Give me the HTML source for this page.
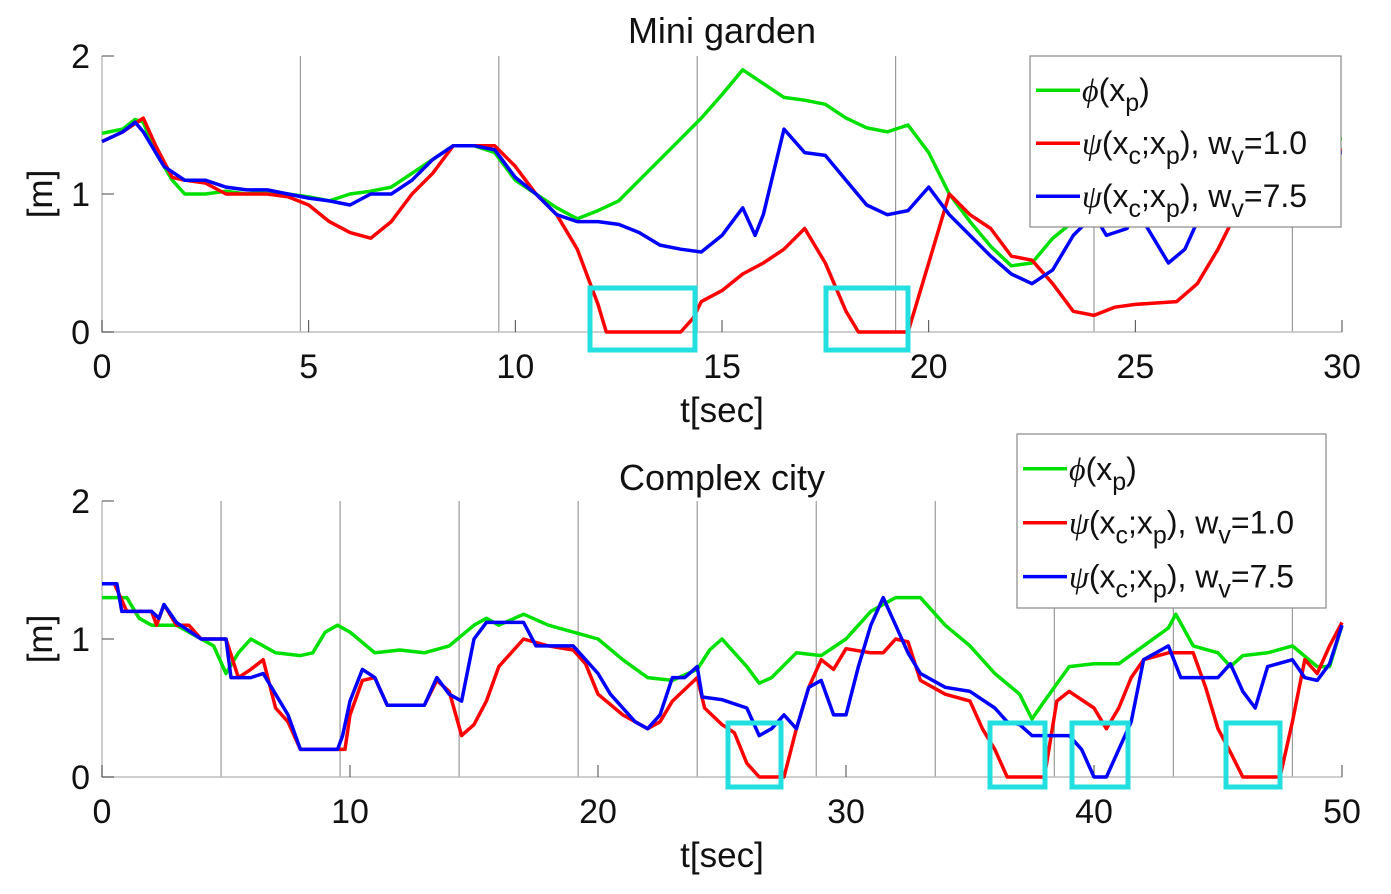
<!DOCTYPE html>
<html><head><meta charset="utf-8"><style>
html,body{margin:0;padding:0;background:#fff}
svg{display:block;font-family:"Liberation Sans",sans-serif}
</style></head><body>
<svg id="chart" width="1391" height="894" viewBox="0 0 1391 894" xmlns="http://www.w3.org/2000/svg"></svg>
<script>
// ---- Mini garden data ----
const gTopT = [0,0.5,0.8,1.0,1.3,1.7,2,2.5,3,3.5,4,4.5,5,5.5,6,6.5,7,7.5,8,8.5,9,9.5,10,10.5,11,11.5,12,12.5,13,13.5,14,14.5,15,15.5,16,16.5,17,17.5,18,18.5,19,19.5,20,20.5,21,21.5,22,22.5,23,23.5,24,25,26,27,28,29,30];
const gTopV = [1.44,1.47,1.54,1.52,1.3,1.1,1.0,1.0,1.02,1.0,1.02,1.0,0.98,0.95,1.0,1.02,1.05,1.15,1.25,1.35,1.35,1.3,1.1,1.0,0.9,0.82,0.88,0.95,1.1,1.25,1.4,1.55,1.72,1.9,1.8,1.7,1.68,1.65,1.55,1.48,1.45,1.5,1.3,1.0,0.8,0.62,0.48,0.5,0.68,0.8,0.95,1.2,1.3,1.35,1.4,1.4,1.4];
const rTopT = [0,0.5,1.0,1.3,1.7,2,2.5,3,3.5,4,4.5,5,5.5,6,6.5,7,7.5,8,8.5,9,9.5,10,10.5,11,11.5,12,12.2,14,14.3,14.5,15,15.5,16,16.5,17,17.5,18,18.3,19.5,20,20.5,21,21.5,22,22.5,23,23.5,24,24.5,25,26,26.5,27,27.5,28,29,30];
const rTopV = [1.38,1.45,1.55,1.35,1.12,1.1,1.08,1.0,1.0,1.0,0.98,0.92,0.8,0.72,0.68,0.8,1.0,1.15,1.35,1.35,1.35,1.2,1.0,0.85,0.6,0.2,0,0,0.1,0.22,0.3,0.42,0.5,0.6,0.75,0.5,0.15,0,0,0.5,1.0,0.85,0.75,0.55,0.52,0.35,0.15,0.12,0.18,0.2,0.22,0.35,0.6,0.9,1.1,1.3,1.32];
const bTopT = [0,0.5,0.8,1,1.5,2,2.5,3,3.5,4,4.5,5,5.5,6,6.5,7,7.5,8,8.5,9,9.5,10,10.5,11,11.5,12,12.5,13,13.5,14,14.5,15,15.5,15.8,16,16.5,17,17.5,18,18.5,19,19.5,20,20.5,21,21.5,22,22.5,23,23.5,24,24.3,24.8,25,25.5,25.8,26.2,26.5,27,28,30];
const bTopV = [1.38,1.45,1.52,1.45,1.2,1.1,1.1,1.05,1.03,1.03,1.0,0.97,0.95,0.92,1.0,1.0,1.1,1.25,1.35,1.35,1.32,1.12,1.0,0.85,0.8,0.8,0.78,0.72,0.63,0.6,0.58,0.7,0.9,0.7,0.85,1.47,1.3,1.28,1.1,0.92,0.85,0.88,1.05,0.85,0.7,0.55,0.42,0.35,0.45,0.7,0.85,0.7,0.75,0.9,0.65,0.5,0.6,0.8,1.1,1.3,1.3];
const topXTicks = [0,5,10,15,20,25,30];
const topYTicks = [0,1,2];
const topGrid = [4.8,9.6,14.4,19.2,24.0,28.8];
// ---- Complex city data ----
const gBotT = [0,1,1.5,2,3,4,4.5,5,5.5,6,7,8,8.5,9,9.5,10,11,12,13,14,15,15.5,16,17,18,19,20,21,22,23,24,24.5,25,25.5,26,26.5,27,28,29,30,31,32,33,34,35,36,37,37.5,38,39,40,41,42,43,43.3,44,45,45.5,46,47,48,49,49.5,50];
const gBotV = [1.3,1.3,1.15,1.1,1.1,1.0,0.95,0.75,0.9,1.0,0.9,0.88,0.9,1.05,1.1,1.05,0.9,0.92,0.9,0.95,1.1,1.15,1.1,1.18,1.1,1.05,1.0,0.85,0.72,0.7,0.78,0.92,1.0,0.9,0.8,0.68,0.72,0.9,0.88,1.0,1.2,1.3,1.3,1.1,0.95,0.75,0.6,0.42,0.55,0.8,0.82,0.82,0.95,1.08,1.18,0.95,0.9,0.8,0.88,0.9,0.95,0.8,0.8,1.1];
const rBotT = [0,0.5,1,2,2.2,2.5,3,3.5,4,5,5.5,6,6.5,7,7.5,8,9.8,10,10.5,11,11.5,13,13.5,14,14.5,15,15.5,16,17,18,19,19.5,20,21,22,22.5,23,24,24.3,25,25.5,26,26.5,27.5,28,28.5,29,29.5,30,31,31.5,32,32.5,33,34,35,35.5,36,36.5,38,38.5,39,40,40.5,41,41.5,42,43,44,44.5,45,45.5,46,47.5,48,48.5,49,49.5,50];
const rBotV = [1.4,1.4,1.2,1.2,1.1,1.25,1.1,1.1,1.0,1.0,0.72,0.78,0.85,0.5,0.4,0.2,0.2,0.45,0.7,0.72,0.52,0.52,0.7,0.62,0.3,0.38,0.55,0.8,1.0,0.95,0.92,0.82,0.6,0.45,0.35,0.4,0.55,0.72,0.5,0.38,0.32,0.1,0,0,0.35,0.65,0.85,0.78,0.93,0.9,0.9,1.0,0.98,0.7,0.6,0.55,0.35,0.2,0,0,0.55,0.62,0.5,0.35,0.5,0.72,0.85,0.9,0.9,0.65,0.35,0.18,0,0,0.4,0.85,0.75,0.95,1.12];
const bBotT = [0,0.6,0.8,2,2.3,2.5,3,4,5,5.2,6,6.5,7,7.5,8,9.5,9.7,10,10.5,11,11.5,13,13.5,14,14.5,15,15.5,17,17.5,19,19.5,20,20.5,21.5,22,22.5,23,23.5,24,24.2,25,26,26.5,27,27.5,28,28.5,29,29.5,30,30.5,31,31.5,32,32.5,33,34,35,36,36.5,37,37.5,39,39.5,40,40.5,41,41.5,42,43,43.5,45,45.5,46,46.5,47,48,48.5,49,49.5,50];
const bBotV = [1.4,1.4,1.2,1.2,1.15,1.25,1.12,1.0,1.0,0.72,0.72,0.75,0.6,0.45,0.2,0.2,0.3,0.55,0.78,0.72,0.52,0.52,0.72,0.6,0.55,1.0,1.12,1.12,0.95,0.95,0.85,0.75,0.6,0.4,0.35,0.45,0.72,0.72,0.8,0.58,0.56,0.5,0.3,0.35,0.45,0.35,0.65,0.7,0.45,0.45,0.8,1.1,1.3,1.1,0.9,0.75,0.65,0.62,0.5,0.4,0.38,0.3,0.3,0.2,0,0,0.2,0.4,0.85,0.95,0.72,0.72,0.82,0.62,0.5,0.8,0.85,0.72,0.7,0.82,1.1];
const botXTicks = [0,10,20,30,40,50];
const botYTicks = [0,1,2];
const botGrid = [4.8,9.6,14.4,19.2,24.0,28.8,33.6,38.4,43.2,48.0];

const NS = "http://www.w3.org/2000/svg";
const svg = document.getElementById('chart');
function mk(tag, attrs, parent){ const e=document.createElementNS(NS,tag); for(const k in attrs) e.setAttribute(k,attrs[k]); (parent||svg).appendChild(e); return e; }

function panel(cfg){
  const L=102,R=1342,T=cfg.top,B=cfg.bottom;
  const sx=t=>L+(t/cfg.xmax)*(R-L);
  const sy=v=>B-(v/2)*(B-T);
  const g=mk('g',{});  
  cfg.grid.forEach(t=>{ const l=mk('line',{x1:sx(t),x2:sx(t),y1:T,y2:B,stroke:'#9a9a9a','stroke-width':1.2},g);   });
  const ax=mk('path',{d:`M${L} ${T}V${B}H${R}`,fill:'none',stroke:'#bdbdbd','stroke-width':1.5},g);  
  cfg.xt.forEach(t=>{ mk('line',{x1:sx(t),x2:sx(t),y1:B,y2:B-12,stroke:'#444','stroke-width':1},g);
    const tx=mk('text',{x:sx(t),y:B+46,'font-size':34,'text-anchor':'middle',fill:'#111'},g); tx.textContent=t;   });
  cfg.yt.forEach(v=>{ mk('line',{x1:L,x2:L+12,y1:sy(v),y2:sy(v),stroke:'#444','stroke-width':1},g);
    const tx=mk('text',{x:L-12,y:sy(v)+12,'font-size':34,'text-anchor':'end',fill:'#111'},g); tx.textContent=v;   });
  const series=[[cfg.g,'#00e000','phi-line'],[cfg.r,'#ff0000','psi-wv1-line'],[cfg.b,'#0000ff','psi-wv7.5-line']];
  series.forEach(([s,c,n])=>{ const d=s[0].map((t,i)=>(i?'L':'M')+sx(t).toFixed(1)+' '+sy(s[1][i]).toFixed(1)).join('');
    const p=mk('path',{d,fill:'none',stroke:c,'stroke-width':3.5,'stroke-linejoin':'round'},g);   });
  cfg.boxes.forEach(b=>{ const r=mk('rect',{x:b[0],y:b[1],width:b[2]-b[0],height:b[3]-b[1],fill:'none',stroke:'#22e0e0','stroke-width':5},g);   });
  const tt=mk('text',{x:722,y:cfg.titleY,'font-size':36,'text-anchor':'middle',fill:'#111'},g); tt.textContent=cfg.title;  
  const xl=mk('text',{x:722,y:B+90,'font-size':35,'text-anchor':'middle',fill:'#111'},g); xl.textContent='t[sec]';  
  const yl=mk('text',{x:0,y:0,'font-size':35,'text-anchor':'middle',fill:'#111',transform:`translate(52 ${(T+B)/2}) rotate(-90)`},g); yl.textContent='[m]';  
  const [lx,ly,lw,lh]=cfg.leg;
  const lg=mk('g',{},g);  
  mk('rect',{x:lx,y:ly,width:lw,height:lh,fill:'#fff',stroke:'#888','stroke-width':1.2},lg);
  const items=[['#00e000','<tspan font-family="Liberation Serif" font-style="italic">ϕ</tspan>(x<tspan dy="10" font-size="25">p</tspan><tspan dy="-10">)</tspan>'],
   ['#ff0000','<tspan font-family="Liberation Serif" font-style="italic">ψ</tspan>(x<tspan dy="10" font-size="25">c</tspan><tspan dy="-10">;x</tspan><tspan dy="10" font-size="25">p</tspan><tspan dy="-10">), w</tspan><tspan dy="10" font-size="25">v</tspan><tspan dy="-10">=1.0</tspan>'],
   ['#0000ff','<tspan font-family="Liberation Serif" font-style="italic">ψ</tspan>(x<tspan dy="10" font-size="25">c</tspan><tspan dy="-10">;x</tspan><tspan dy="10" font-size="25">p</tspan><tspan dy="-10">), w</tspan><tspan dy="10" font-size="25">v</tspan><tspan dy="-10">=7.5</tspan>']];
  items.forEach(([c,h],i)=>{ const yy=ly+lh*(0.2+0.31*i);
    mk('line',{x1:lx+6,x2:lx+50,y1:yy,y2:yy,stroke:c,'stroke-width':3.5},lg);
    const t=mk('text',{x:lx+52,y:yy+11,'font-size':32,fill:'#111'},lg); t.innerHTML=h;   });
}
panel({name:'mini-garden-panel',top:56,bottom:332,xmax:30,grid:topGrid,xt:topXTicks,yt:topYTicks,g:[gTopT,gTopV],r:[rTopT,rTopV],b:[bTopT,bTopV],
  boxes:[[590,288,695,350],[826,288,908,350]],title:'Mini garden',titleY:43,leg:[1030,56,311,171]});
panel({name:'complex-city-panel',top:501,bottom:777,xmax:50,grid:botGrid,xt:botXTicks,yt:botYTicks,g:[gBotT,gBotV],r:[rBotT,rBotV],b:[bBotT,bBotV],
  boxes:[[728,723,781,787],[990,723,1045,787],[1072,723,1128,787],[1226,723,1280,787]],title:'Complex city',titleY:490,leg:[1017,434,309,174]});
</script>
</body></html>
